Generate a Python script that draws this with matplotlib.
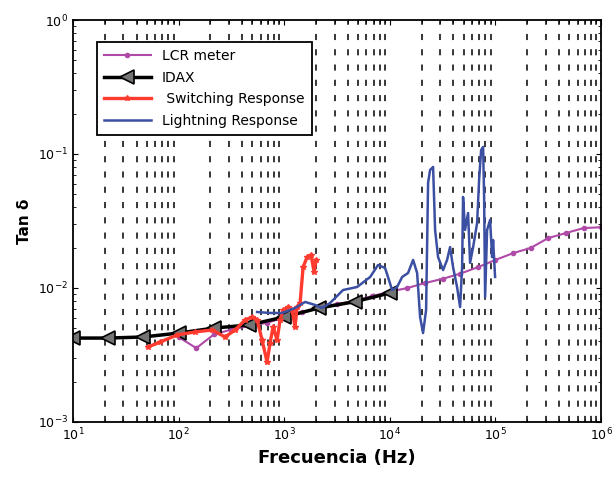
import matplotlib
matplotlib.use("Agg")
import matplotlib.pyplot as plt
from matplotlib.ticker import LogLocator, NullFormatter

# LCR meter: 6 points per decade from 100 Hz to 1 MHz
lcr_f = [10 ** (2 + k / 6) for k in range(25)]
lcr_t = [4.3e-3, 3.56e-3, 4.5e-3, 4.9e-3, 5.2e-3, 5.5e-3, 6.0e-3, 6.6e-3, 7.1e-3,
         7.6e-3, 8.0e-3, 8.7e-3, 9.4e-3, 1.0e-2, 1.09e-2, 1.17e-2, 1.28e-2, 1.43e-2,
         1.62e-2, 1.82e-2, 1.99e-2, 2.36e-2, 2.57e-2, 2.80e-2, 2.84e-2]

# IDAX
idax_f = [10, 21.5, 46.4, 100, 215, 464, 1000, 2150, 4640, 10000]
idax_t = [4.23e-3, 4.23e-3, 4.31e-3, 4.61e-3, 5.02e-3, 5.3e-3, 6.08e-3, 7.1e-3, 7.9e-3, 9.18e-3]

# Switching response
sw_f = [51.3, 66.7, 96.6, 143, 207, 275, 342, 425, 496, 553, 616, 687, 734, 783,
        855, 912, 975, 1087, 1186, 1265, 1321, 1412, 1507, 1643, 1793, 1915, 2000]
sw_t = [3.63e-3, 3.95e-3, 4.46e-3, 4.70e-3, 4.86e-3, 4.31e-3, 4.86e-3, 5.77e-3, 6.08e-3,
        5.77e-3, 4.09e-3, 2.80e-3, 3.89e-3, 5.12e-3, 4.09e-3, 5.77e-3, 6.85e-3, 7.21e-3,
        6.85e-3, 5.12e-3, 7.21e-3, 7.73e-3, 1.43e-2, 1.70e-2, 1.76e-2, 1.32e-2, 1.62e-2]

# Lightning response
li_f = [553, 734, 953, 1265, 1574, 1958, 2280, 2716, 3604, 4890, 6500, 7730, 9010,
        10500, 11700, 13060, 14860, 16590, 18110, 19320, 20610, 22020, 23000, 24030,
        25650, 26800, 28600, 31900, 34800, 37150, 39650, 43260, 46200, 48300, 49300,
        51500, 55000, 57450, 61400, 66950, 69950, 73100, 76350, 78000, 79750, 83250,
        88900, 92850, 94900, 99100]
li_t = [6.62e-3, 6.51e-3, 6.51e-3, 7.09e-3, 7.87e-3, 7.47e-3, 7.09e-3, 7.73e-3, 9.66e-3,
        1.017e-2, 1.208e-2, 1.485e-2, 1.41e-2, 9.66e-3, 1.017e-2, 1.208e-2, 1.294e-2,
        1.62e-2, 1.294e-2, 6.08e-3, 4.61e-3, 6.85e-3, 6.08e-2, 7.6e-2, 8.0e-2, 2.71e-2,
        1.70e-2, 1.36e-2, 1.62e-2, 2.02e-2, 1.43e-2, 1.017e-2, 7.21e-3, 1.43e-2, 4.78e-2,
        2.71e-2, 3.63e-2, 1.54e-2, 2.02e-2, 3.05e-2, 6.4e-2, 0.107, 0.113, 4.78e-2,
        8.57e-3, 2.71e-2, 3.22e-2, 1.70e-2, 2.28e-2, 1.208e-2]

fig = plt.figure(figsize=(6.14, 4.82), dpi=100)
ax = fig.add_axes([0.119, 0.1245, 0.860, 0.834])

ax.plot(lcr_f, lcr_t, color='#b04aa8', lw=1.5, marker='o', ms=3, label='LCR meter')
ax.plot(idax_f, idax_t, color='black', lw=2.5, marker='<', ms=10,
        mfc='0.45', mec='black', mew=1.2, label='IDAX')
ax.plot(sw_f, sw_t, color='#ff3b2f', lw=2.4, marker='*', ms=4, label=' Switching Response')
ax.plot(li_f, li_t, color='#3b4fa3', lw=1.8, label='Lightning Response')

ax.set_xscale('log')
ax.set_yscale('log')
ax.set_xlim(10, 1e6)
ax.set_ylim(1e-3, 1)

ax.xaxis.set_minor_locator(LogLocator(base=10, subs=range(2, 10)))
ax.yaxis.set_minor_locator(LogLocator(base=10, subs=range(2, 10)))
ax.xaxis.set_minor_formatter(NullFormatter())
ax.yaxis.set_minor_formatter(NullFormatter())
ax.grid(True, which='minor', axis='x', color='black', linestyle=(0, (4, 6)), lw=1.1)
ax.tick_params(which='both', direction='in', top=True, right=True, labelsize=9)

for s in ax.spines.values():
    s.set_linewidth(1.3)

ax.set_xlabel('Frecuencia (Hz)', fontsize=13, fontweight='bold')
ax.set_ylabel('Tan δ', fontsize=11, fontweight='bold')

leg = ax.legend(loc='upper left', bbox_to_anchor=(0.045, 0.945), borderaxespad=0,
                fontsize=10, fancybox=False, framealpha=1, edgecolor='black',
                handlelength=3.4, borderpad=0.5, labelspacing=0.55)
leg.get_frame().set_linewidth(1.3)

fig.savefig('out.png', dpi=100)
